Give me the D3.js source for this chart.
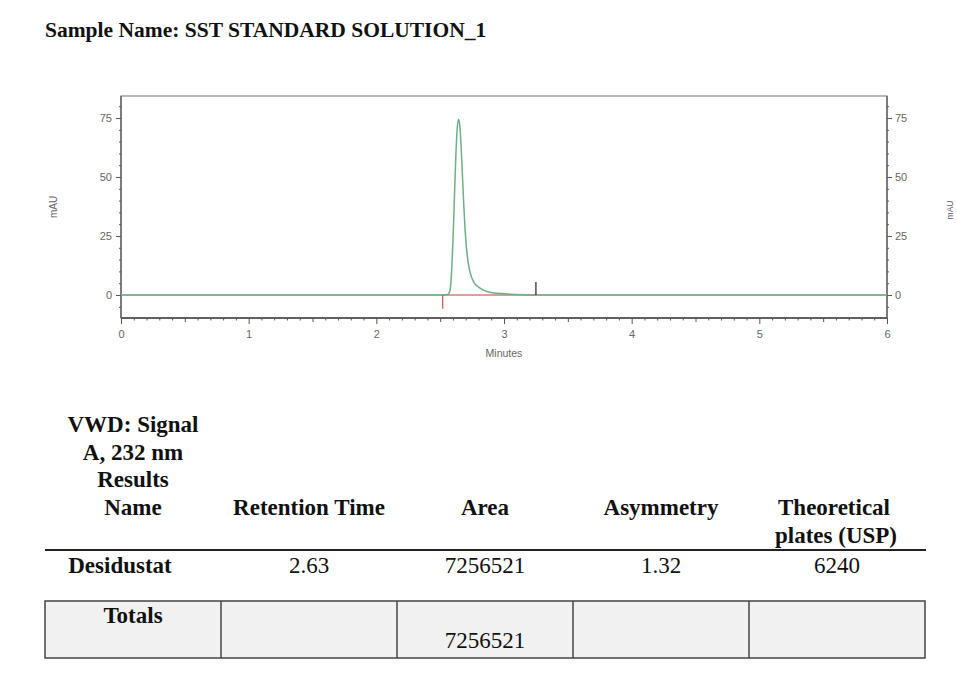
<!DOCTYPE html>
<html>
<head>
<meta charset="utf-8">
<script src="https://cdn.jsdelivr.net/npm/d3@7"></script>
<style>
  body { margin: 0; background: #fff; }
  .tick text { font-family: "Liberation Sans", Arial, sans-serif; font-size: 11px; fill: #666; }
  .serif { font-family: "Liberation Serif", "Times New Roman", serif; fill: #111; }
</style>
</head>
<body>
<svg id="chart"></svg>
<script>
// chromatogram trace, minutes vs mAU
const timeMin   = [0, 2.52, 2.56, 2.575, 2.585, 2.595, 2.605, 2.615, 2.625, 2.635, 2.645, 2.655, 2.665, 2.675, 2.685, 2.695, 2.705, 2.72, 2.74, 2.76, 2.79, 2.83, 2.88, 2.95, 3.05, 3.15, 3.25, 6];
const signalMau = [0, 0,    0.2,  1.5,   6,     16,    30,    47,    62,    71.5,  74.5,  71,    62,    50,    38,    28,    20.5,  13.5, 8.5,  5.8,  3.8,  2.3,  1.3,  0.7,  0.35, 0.15, 0.05, 0];

// integration marks
const peakStart = 2.52;
const peakEnd = 3.25;
const startMarkMau = -5.8;
const endMarkMau = 5.5;

const xTicks = [0, 1, 2, 3, 4, 5, 6];
const yTicks = [0, 25, 50, 75];
const yMinorTicks = [-5, 5, 10, 15, 20, 30, 35, 40, 45, 55, 60, 65, 70, 80];

// results table
const sampleName = "Sample Name: SST STANDARD SOLUTION_1";
const signalLabel = ["VWD: Signal", "A, 232 nm", "Results", "Name"];
const columnHeads = [["Retention Time"], ["Area"], ["Asymmetry"], ["Theoretical", "plates (USP)"]];
const peakNames = ["Desidustat"];
const retentionTimes = ["2.63"];
const areas = ["7256521"];
const asymmetries = ["1.32"];
const plates = ["6240"];
const totalArea = "7256521";

const W = 957, H = 679;
const box = {left: 121, right: 887, top: 96, bottom: 318};

const svg = d3.select('#chart').attr('width', W).attr('height', H);

const x = d3.scaleLinear().domain([0, 6]).range([box.left, box.right]);
const y = d3.scaleLinear().domain([0, 75]).range([295, 118]);

// title
svg.append('text').attr('class', 'serif')
    .attr('x', 45).attr('y', 37)
    .style('font-size', '21.5px').style('font-weight', 'bold')
    .text(sampleName);

// frame
svg.append('rect')
    .attr('x', box.left).attr('y', box.top)
    .attr('width', box.right - box.left).attr('height', box.bottom - box.top)
    .attr('fill', 'none').attr('stroke', '#888').attr('stroke-width', 1.2);
svg.append('line')
    .attr('x1', box.left).attr('x2', box.right)
    .attr('y1', box.bottom).attr('y2', box.bottom)
    .attr('stroke', '#444').attr('stroke-width', 1.5);
svg.append('line')
    .attr('x1', box.left).attr('x2', box.left)
    .attr('y1', box.top).attr('y2', box.bottom)
    .attr('stroke', '#555').attr('stroke-width', 1.2);
svg.append('line')
    .attr('x1', box.right).attr('x2', box.right)
    .attr('y1', box.top).attr('y2', box.bottom)
    .attr('stroke', '#555').attr('stroke-width', 1.2);

function styleAxis(g) {
  g.select('.domain').remove();
  g.selectAll('.tick line').attr('stroke', '#555');
}

// y axes (left and right)
svg.append('g').attr('transform', `translate(${box.left},0)`)
    .call(d3.axisLeft(y).tickValues(yTicks).tickSize(5).tickPadding(4))
    .call(styleAxis);
svg.append('g').attr('transform', `translate(${box.left},0)`)
    .call(d3.axisLeft(y).tickValues(yMinorTicks).tickSize(2).tickFormat(''))
    .call(styleAxis);
svg.append('g').attr('transform', `translate(${box.right},0)`)
    .call(d3.axisRight(y).tickValues(yTicks).tickSize(5).tickPadding(3))
    .call(styleAxis);
svg.append('g').attr('transform', `translate(${box.right},0)`)
    .call(d3.axisRight(y).tickValues(yMinorTicks).tickSize(2).tickFormat(''))
    .call(styleAxis);

// x axis
const xMinor = d3.range(0, 60).map(i => i / 10).filter(v => Math.abs(v - Math.round(v)) > 1e-6);
svg.append('g').attr('transform', `translate(0,${box.bottom})`)
    .call(d3.axisBottom(x).tickValues(xMinor.filter(v => Math.abs(v * 2 - Math.round(v * 2)) > 1e-6)).tickSize(2.5).tickFormat(''))
    .call(styleAxis);
svg.append('g').attr('transform', `translate(0,${box.bottom})`)
    .call(d3.axisBottom(x).tickValues(xMinor.filter(v => Math.abs(v * 2 - Math.round(v * 2)) < 1e-6)).tickSize(4).tickFormat(''))
    .call(styleAxis);
svg.append('g').attr('transform', `translate(0,${box.bottom})`)
    .call(d3.axisBottom(x).tickValues(xTicks).tickSize(6).tickPadding(6).tickFormat(d3.format('d')))
    .call(styleAxis);

// axis titles
svg.append('text')
    .attr('x', 504).attr('y', 357).attr('text-anchor', 'middle')
    .style('font-family', '"Liberation Sans", Arial, sans-serif').style('font-size', '10.5px').attr('fill', '#666')
    .text('Minutes');
svg.append('text')
    .attr('transform', 'translate(57,207) rotate(-90)').attr('text-anchor', 'middle')
    .style('font-family', '"Liberation Sans", Arial, sans-serif').style('font-size', '10px').attr('fill', '#666')
    .text('mAU');
svg.append('text')
    .attr('transform', 'translate(953,210) rotate(-90)').attr('text-anchor', 'middle')
    .style('font-family', '"Liberation Sans", Arial, sans-serif').style('font-size', '8.5px').attr('fill', '#557')
    .text('mAU');

// zero baseline
svg.append('line')
    .attr('x1', x(0)).attr('x2', x(6))
    .attr('y1', y(0)).attr('y2', y(0))
    .attr('stroke', '#a9b3ae').attr('stroke-width', 1.6);

// integration baseline
svg.append('line')
    .attr('x1', x(peakStart)).attr('x2', x(peakEnd))
    .attr('y1', y(0)).attr('y2', y(0))
    .attr('stroke', '#ee8c8c').attr('stroke-width', 1.3);

// trace
const points = timeMin.map((t, i) => [t, signalMau[i]]);
svg.append('path')
    .datum(points)
    .attr('fill', 'none')
    .attr('stroke', '#6fae86')
    .attr('stroke-width', 1.5)
    .attr('d', d3.line().x(d => x(d[0])).y(d => y(d[1])).curve(d3.curveMonotoneX));

// start / end marks
svg.append('line')
    .attr('x1', x(peakStart)).attr('x2', x(peakStart))
    .attr('y1', y(0)).attr('y2', y(startMarkMau))
    .attr('stroke', '#c85050').attr('stroke-width', 1.2);
svg.append('line')
    .attr('x1', x(peakEnd)).attr('x2', x(peakEnd))
    .attr('y1', y(0)).attr('y2', y(endMarkMau))
    .attr('stroke', '#222').attr('stroke-width', 1.2);

// ---- results table ----
const colEdges = [45, 221, 397, 573, 749, 925];
const colCenter = i => (colEdges[i] + colEdges[i + 1]) / 2;
const fs = '23px';

function tableText(str, cx, by, bold) {
  svg.append('text').attr('class', 'serif')
      .attr('x', cx).attr('y', by).attr('text-anchor', 'middle')
      .style('font-size', fs).style('font-weight', bold ? 'bold' : 'normal')
      .text(str);
}

signalLabel.forEach((s, i) => tableText(s, 133, 432 + i * 27.7, true));
columnHeads.forEach((lines, i) => {
  lines.forEach((s, j) => tableText(s, colCenter(i + 1) + (j ? 2 : 0) - (lines.length > 1 ? 3 : 0), 515 + j * 28, true));
});

svg.append('line')
    .attr('x1', 45).attr('x2', 926).attr('y1', 550).attr('y2', 550)
    .attr('stroke', '#222').attr('stroke-width', 2);

peakNames.forEach((name, r) => {
  const by = 573 + r * 28;
  tableText(name, colCenter(0) - 13, by, true);
  tableText(retentionTimes[r], colCenter(1), by, false);
  tableText(areas[r], colCenter(2), by, false);
  tableText(asymmetries[r], colCenter(3), by, false);
  tableText(plates[r], colCenter(4), by, false);
});

// totals box
svg.append('rect')
    .attr('x', colEdges[0]).attr('y', 601)
    .attr('width', colEdges[5] - colEdges[0]).attr('height', 57)
    .attr('fill', '#f1f1f1').attr('stroke', '#444').attr('stroke-width', 1.5);
colEdges.slice(1, 5).forEach(e => {
  svg.append('line')
      .attr('x1', e).attr('x2', e).attr('y1', 601).attr('y2', 658)
      .attr('stroke', '#444').attr('stroke-width', 1.5);
});
tableText('Totals', colCenter(0), 623, true);
tableText(totalArea, colCenter(2), 648, false);
</script>
</body>
</html>
